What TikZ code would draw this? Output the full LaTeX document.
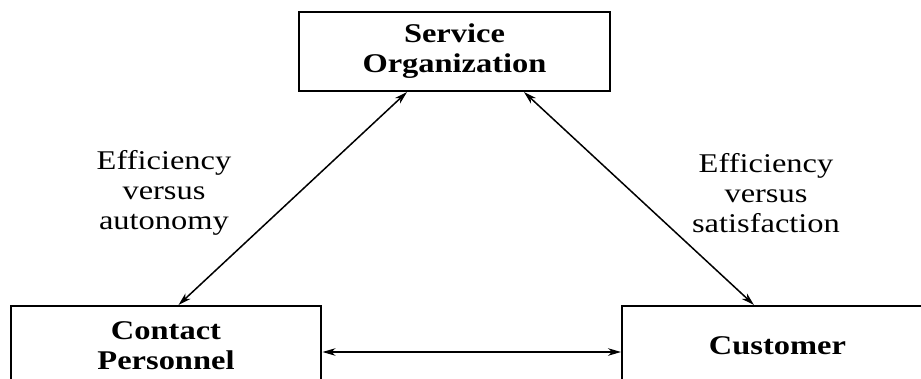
\documentclass[tikz,border=0pt]{standalone}
\usepackage{fontspec}
\setmainfont{Liberation Serif}[FakeStretch=1.2]
\newfontfamily\partyfont{Liberation Serif Bold}[FakeStretch=1.2]
\usetikzlibrary{arrows.meta,positioning}

\tikzset{
  box/.style={draw, line width=0.04cm, minimum width=6.22cm, minimum height=1.58cm,
    align=center, font=\fontsize{15.4pt}{17pt}\partyfont},
  link/.style={{Stealth[length=0.26cm,width=0.15cm,inset=0.08cm]}-{Stealth[length=0.26cm,width=0.15cm,inset=0.08cm]},
    line width=0.03cm},
  tradeoff/.style={align=center, font=\fontsize{15.4pt}{17pt}\selectfont}
}

\begin{document}
\begin{tikzpicture}[x=0.02cm, y=-0.02cm]
    \useasboundingbox (0,0) rectangle (921,379);
    \clip (0,0) rectangle (921,379);

    % The three parties
    \node[box] (org) at (454.5,51.5) {Service\\Organization};
    \node[box] (contact) at (166,345.5) {Contact\\Personnel};
    \node[box] (customer) at (777.5,345.5) {Customer};

    % Links between them
    \draw[link] ([xshift=2.18cm]org.south west) -- ([xshift=3.38cm]contact.north west);
    \draw[link] ([xshift=-1.74cm]org.south east) -- ([xshift=2.66cm]customer.north west);
    \draw[link] ([yshift=-0.13cm]contact.east) -- ([yshift=-0.13cm]customer.west);

    % Trade-offs on each side
    \node[tradeoff] (leftlbl) at (164,193) {Efficiency\\versus\\autonomy};
    \node[tradeoff] (rightlbl) at (766,193) {Efficiency\\versus\\satisfaction};
\end{tikzpicture}
\end{document}
